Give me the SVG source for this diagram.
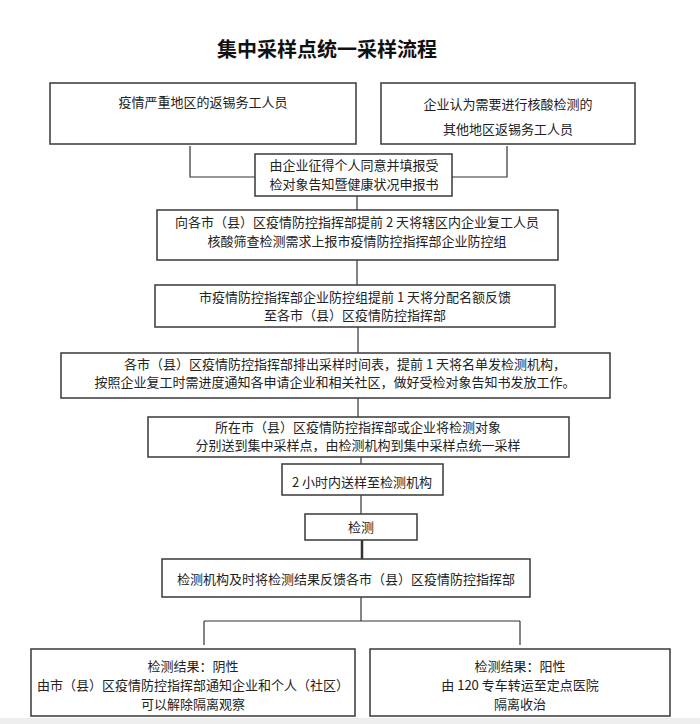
<svg xmlns="http://www.w3.org/2000/svg" width="700" height="724" viewBox="0 0 700 724">
<style>
.bg{fill:#ffffff}
.box{fill:#ffffff;stroke:#444444;stroke-width:1.6}
.ln{fill:none;stroke:#333333;stroke-width:1.2}
.t{font-family:"Noto Sans CJK SC","Noto Sans",sans-serif;font-size:13px;fill:#222222;text-anchor:middle}
.title{font-family:"Noto Sans CJK SC","Noto Sans",sans-serif;font-size:20px;font-weight:bold;fill:#111111;text-anchor:middle}
</style>
<rect class="bg" x="0" y="0" width="700" height="724"/>
<rect x="0" y="718" width="700" height="6" fill="#eeeeee"/>
<text class="title" x="327" y="57">集中采样点统一采样流程</text>

<g id="connectors">
  <polyline class="ln" points="190,146 190,177 255,177"/>
  <polyline class="ln" points="507,146 507,177 452,177"/>
  <line class="ln" x1="357" y1="196" x2="357" y2="210"/>
  <line class="ln" x1="357" y1="260" x2="357" y2="285"/>
  <line class="ln" x1="358" y1="327" x2="358" y2="353"/>
  <line class="ln" x1="358" y1="398" x2="358" y2="417"/>
  <line class="ln" x1="361" y1="457" x2="361" y2="464"/>
  <line class="ln" x1="361" y1="495" x2="361" y2="514"/>
  <line class="ln" x1="362" y1="540" x2="362" y2="559" style="stroke-width:2.5"/>
  <line class="ln" x1="361" y1="597" x2="361" y2="621"/>
  <line class="ln" x1="204" y1="621" x2="520" y2="621"/>
  <line class="ln" x1="204" y1="621" x2="204" y2="645"/>
  <line class="ln" x1="520" y1="621" x2="520" y2="645"/>
</g>

<g id="nodeA">
  <rect class="box" x="50" y="83" width="306" height="61"/>
  <text class="t" x="203" y="107">疫情严重地区的返锡务工人员</text>
</g>
<g id="nodeB">
  <rect class="box" x="381" y="83" width="254" height="61"/>
  <text class="t" x="508" y="109">企业认为需要进行核酸检测的</text>
  <text class="t" x="508" y="134">其他地区返锡务工人员</text>
</g>
<g id="nodeC">
  <rect class="box" x="255" y="154" width="197" height="42"/>
  <text class="t" x="354" y="170">由企业征得个人同意并填报受</text>
  <text class="t" x="354" y="189">检对象告知暨健康状况申报书</text>
</g>
<g id="nodeD">
  <rect class="box" x="157" y="210" width="401" height="50"/>
  <text class="t" x="357" y="227">向各市（县）区疫情防控指挥部提前 2 天将辖区内企业复工人员</text>
  <text class="t" x="357" y="246">核酸筛查检测需求上报市疫情防控指挥部企业防控组</text>
</g>
<g id="nodeE">
  <rect class="box" x="155" y="285" width="400" height="42"/>
  <text class="t" x="355" y="302">市疫情防控指挥部企业防控组提前 1 天将分配名额反馈</text>
  <text class="t" x="355" y="320">至各市（县）区疫情防控指挥部</text>
</g>
<g id="nodeF">
  <rect class="box" x="61" y="353" width="549" height="45"/>
  <text class="t" x="345" y="369">各市（县）区疫情防控指挥部排出采样时间表，提前 1 天将名单发检测机构，</text>
  <text class="t" x="335" y="387">按照企业复工时需进度通知各申请企业和相关社区，做好受检对象告知书发放工作。</text>
</g>
<g id="nodeG">
  <rect class="box" x="148" y="417" width="421" height="40"/>
  <text class="t" x="358" y="432">所在市（县）区疫情防控指挥部或企业将检测对象</text>
  <text class="t" x="358" y="450">分别送到集中采样点，由检测机构到集中采样点统一采样</text>
</g>
<g id="nodeH">
  <rect class="box" x="282" y="464" width="161" height="31"/>
  <text class="t" x="362" y="487">2 小时内送样至检测机构</text>
</g>
<g id="nodeI">
  <rect class="box" x="305" y="514" width="112" height="26"/>
  <text class="t" x="361" y="532">检测</text>
</g>
<g id="nodeJ">
  <rect class="box" x="162" y="559" width="368" height="38"/>
  <text class="t" x="346" y="584">检测机构及时将检测结果反馈各市（县）区疫情防控指挥部</text>
</g>
<g id="nodeK">
  <rect class="box" x="31" y="649" width="324" height="67"/>
  <text class="t" x="193" y="671">检测结果：阴性</text>
  <text class="t" x="193" y="690">由市（县）区疫情防控指挥部通知企业和个人（社区）</text>
  <text class="t" x="193" y="709">可以解除隔离观察</text>
</g>
<g id="nodeL">
  <rect class="box" x="370" y="649" width="300" height="67"/>
  <text class="t" x="520" y="671">检测结果：阳性</text>
  <text class="t" x="520" y="690">由 120 专车转运至定点医院</text>
  <text class="t" x="520" y="709">隔离收治</text>
</g>
</svg>
